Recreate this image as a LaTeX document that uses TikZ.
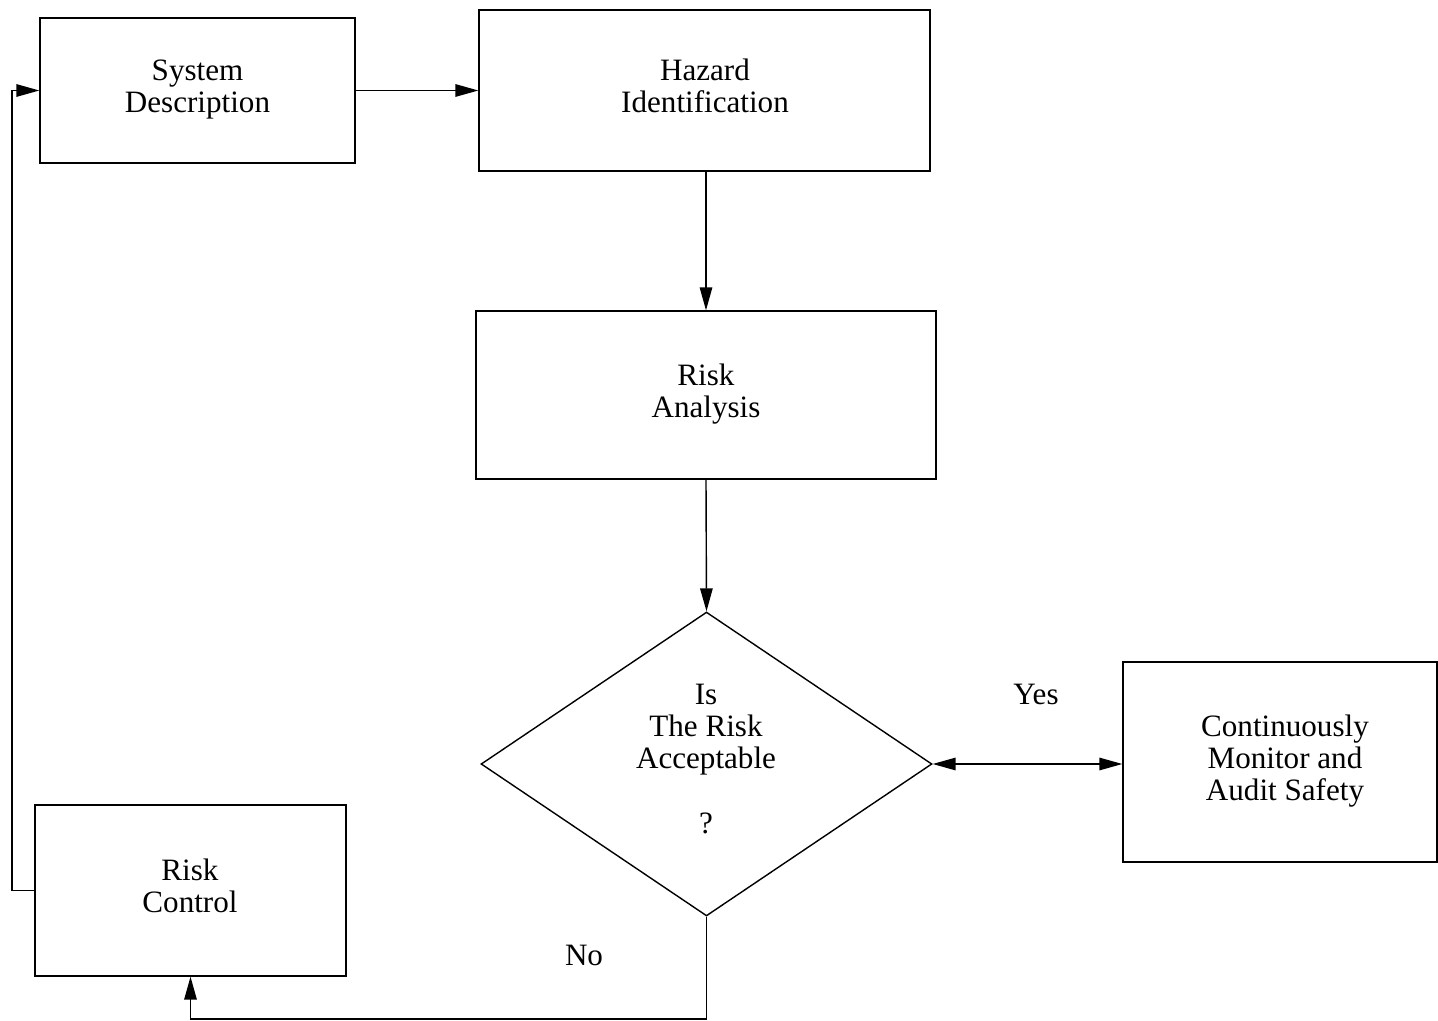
\documentclass[tikz,border=0pt]{standalone}
\usepackage{fontspec}
\setmainfont{Liberation Serif}
\usetikzlibrary{shapes.geometric,arrows.meta}
\begin{document}
\begin{tikzpicture}[x=0.02cm,y=-0.02cm,
  every node/.style={font=\fontsize{17.7}{18.2}\selectfont},
  box/.style={draw,line width=0.8pt,rectangle,inner sep=0pt,align=center},
  dec/.style={draw,line width=0.8pt,diamond,inner sep=0pt,minimum width=9.02cm,minimum height=6.08cm},
  lbl/.style={inner sep=0pt,align=center},
  arr/.style={line width=0.8pt,-{Triangle[length=0.46cm,width=0.25cm]}},
  darr/.style={line width=0.8pt,{Triangle[length=0.46cm,width=0.25cm]}-{Triangle[length=0.46cm,width=0.25cm]}},
  ln/.style={line width=0.8pt}]
\useasboundingbox (0,0) rectangle (1438,1021);
\node[box,minimum width=6.3cm,minimum height=2.9cm] (sys) at (197.5,90.5) {};
\node[lbl] (syst) at (197.5,89.5) {System\\Description};
\node[box,minimum width=9.02cm,minimum height=3.22cm] (haz) at (704.5,90.5) {};
\node[lbl] (hazt) at (705,85.5) {Hazard\\Identification};
\node[box,minimum width=9.2cm,minimum height=3.36cm] (ra) at (706,395) {};
\node[lbl] (rat) at (706,394) {Risk\\Analysis};
\node[dec] (dia) at (706.5,764) {};
\node[lbl] (diat) at (706,759) {Is\\The Risk\\Acceptable\\[18.5pt]?};
\node[box,minimum width=6.28cm,minimum height=4.0cm] (mon) at (1280,762) {};
\node[lbl] (mont) at (1285,761) {Continuously\\Monitor and\\Audit Safety};
\node[box,minimum width=6.22cm,minimum height=3.42cm] (rc) at (190.5,890.5) {};
\node[lbl] (rct) at (190,886) {Risk\\Control};
\node[lbl] (yes) at (1036,694) {Yes};
\node[lbl] (no) at (584,955) {No};
\coordinate (lx) at (12,0);
\coordinate (nb) at (0,1019);
\draw[arr] (sys.east) -- (haz.west |- sys.east);
\draw[arr] (ra.north |- haz.south) -- (ra.north);
\draw[arr] (ra.south) -- (dia.north);
\draw[darr] (dia.east) -- (dia.east -| mon.west);
\draw[arr] (dia.south) -- (dia.south |- nb) -- (rc.south |- nb) -- (rc.south);
\draw[arr] (rc.west) -- (lx |- rc.west) -- (lx |- sys.west) -- (sys.west);
\end{tikzpicture}
\end{document}
